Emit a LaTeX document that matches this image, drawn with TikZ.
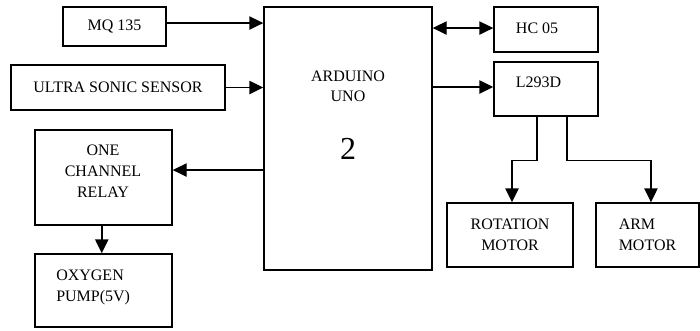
\documentclass[tikz,border=0pt]{standalone}
\usepackage{fontspec}
\setmainfont{Liberation Serif}
\usetikzlibrary{positioning, arrows.meta, calc}

\begin{document}
\begin{tikzpicture}[
    x=0.75pt, y=-0.75pt,
    block/.style={draw, line width=1.1pt, inner sep=0pt, align=center, font=\fontsize{12}{15.75}\selectfont},
    txt/.style={inner sep=0pt, font=\fontsize{12}{15.75}\selectfont},
    arrow/.style={-{Triangle[length=10.5pt, width=10pt]}, line width=1.1pt},
    twoway/.style={{Triangle[length=10.5pt, width=10pt]}-{Triangle[length=10.5pt, width=10pt]}, line width=1.1pt}
]
\useasboundingbox (0,0) rectangle (700,330);

% === CONTROLLER ===
\node[block, minimum width=126pt, minimum height=197.25pt] (ard) at (348, 138.5) {};
\node[txt, anchor=base, align=center, font=\fontsize{12}{15}\selectfont] (ardtxt) at (348, 101.7) {ARDUINO\\UNO};
\node[txt, anchor=base, font=\fontsize{24}{28}\selectfont] (ardnum) at (348, 159.3) {2};

% === INPUTS (LEFT) ===
\node[block, minimum width=77.25pt, minimum height=29.25pt] (mq) at (114.5, 26.5) {MQ 135};
\node[block, minimum width=160.5pt, minimum height=33.75pt] (us) at (118, 87.5) {ULTRA SONIC SENSOR};

% Relay and pump
\node[block, minimum width=102.75pt, minimum height=71.25pt] (relay) at (103.5, 177.5) {};
\node[txt, anchor=base, align=center] (relaytxt) at (103, 197.3) {ONE\\CHANNEL\\RELAY};
\node[block, minimum width=102.75pt, minimum height=54.75pt] (pump) at (103.5, 290.5) {};
\node[txt, anchor=base west, align=left] (pumptxt) at (56, 301.7) {OXYGEN\\PUMP(5V)};

% === OUTPUTS (RIGHT) ===
\node[block, minimum width=78pt, minimum height=33.75pt] (hc) at (546, 29.5) {};
\node[txt, anchor=base west] (hctxt) at (515.7, 33.3) {HC 05};
\node[block, minimum width=78pt, minimum height=40.5pt] (drv) at (546, 89) {};
\node[txt, anchor=base west] (drvtxt) at (515.7, 87.3) {L293D};

% Motors
\node[block, minimum width=94.5pt, minimum height=48pt] (rot) at (510, 235) {ROTATION\\MOTOR};
\node[block, minimum width=77.25pt, minimum height=48pt, align=left] (arm) at (647.5, 235) {ARM\\MOTOR};

% === CONNECTIONS ===
\draw[arrow] ([yshift=2.6pt]mq.east) -- ([yshift=2.6pt]mq.east -| ard.west);
\draw[arrow] (us.east) -- (us.east -| ard.west);
\draw[arrow] ([yshift=5.6pt]relay.east -| ard.west) -- ([yshift=5.6pt]relay.east);
\draw[arrow] ([xshift=-1.3pt]relay.south) -- ([xshift=-1.3pt]pump.north);
\draw[twoway] ([yshift=1.1pt]hc.west -| ard.east) -- ([yshift=1.1pt]hc.west);
\draw[arrow] ([yshift=1.5pt]drv.west -| ard.east) -- ([yshift=1.5pt]drv.west);
\draw[arrow] ([xshift=-6.75pt]drv.south) -- ++(0, 44) -| ([xshift=1.5pt]rot.north);
\draw[arrow] ([xshift=15.75pt]drv.south) -- ++(0, 44) -| ([xshift=2.6pt]arm.north);

\end{tikzpicture}
\end{document}
